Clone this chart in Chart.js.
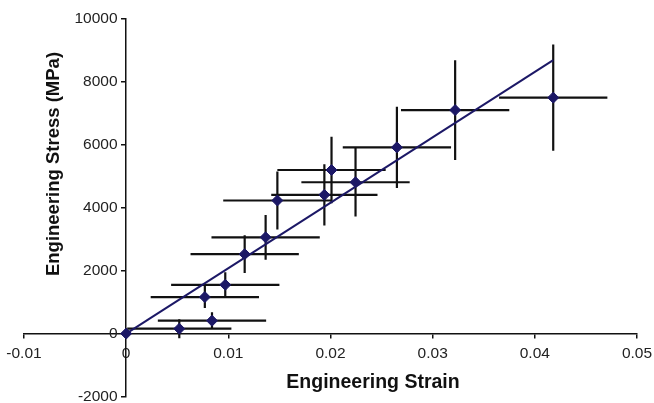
<!DOCTYPE html>
<html>
<head>
<meta charset="utf-8">
<title>Engineering stress vs strain</title>
<script src="https://cdn.jsdelivr.net/npm/chart.js@4.4.1/dist/chart.umd.min.js"></script>
<style>
  html, body { margin: 0; padding: 0; background: #fff; }
  canvas { display: block; }
</style>
</head>
<body>
<canvas id="stressChart" width="654" height="403"></canvas>
<script>
// measured points (strain, stress in MPa) and their error half-widths
const strain    = [0, 0.0052, 0.0084, 0.0077, 0.0097, 0.0116, 0.01365, 0.0148, 0.0194, 0.0201, 0.02245, 0.0265, 0.0322, 0.0418];
const stress    = [0, 155, 410, 1160, 1550, 2525, 3060, 4230, 4410, 5200, 4810, 5920, 7105, 7500];
const strainErr = [0, 0.0051, 0.0053, 0.0053, 0.0053, 0.0053, 0.0053, 0.0053, 0.0052, 0.0053, 0.0053, 0.0053, 0.0053, 0.0053];
const stressErr = [0, 300, 265, 350, 400, 600, 710, 920, 975, 1060, 1090, 1290, 1585, 1690];

// linear fit through the origin
const fitStrain = [0, 0.0418];
const fitStress = [0, 8690];

// axis ticks
const xTicks = [-0.01, 0, 0.01, 0.02, 0.03, 0.04, 0.05];
const yTicks = [-2000, 0, 2000, 4000, 6000, 8000, 10000];

const navy = '#1c1866';
const ink = '#111111';
const fontFamily = '"Liberation Sans", Arial, Helvetica, sans-serif';

// draws the black cross error bars behind the markers
const errorBars = {
  id: 'errorBars',
  beforeDatasetsDraw(chart) {
    const { ctx, scales: { x, y } } = chart;
    ctx.save();
    ctx.strokeStyle = ink;
    ctx.lineWidth = 2.2;
    ctx.lineCap = 'butt';
    strain.forEach((sx, i) => {
      const px = x.getPixelForValue(sx);
      const py = y.getPixelForValue(stress[i]);
      ctx.beginPath();
      if (strainErr[i] > 0) {
        ctx.moveTo(x.getPixelForValue(sx - strainErr[i]), py);
        ctx.lineTo(x.getPixelForValue(sx + strainErr[i]), py);
      }
      if (stressErr[i] > 0) {
        ctx.moveTo(px, y.getPixelForValue(stress[i] - stressErr[i]));
        ctx.lineTo(px, y.getPixelForValue(stress[i] + stressErr[i]));
      }
      ctx.stroke();
    });
    ctx.restore();
  }
};

// axis titles sit off-centre in the original, so place them by hand
const axisTitles = {
  id: 'axisTitles',
  afterDraw(chart) {
    const { ctx, chartArea } = chart;
    ctx.save();
    ctx.fillStyle = ink;
    ctx.textAlign = 'center';
    ctx.textBaseline = 'middle';
    ctx.font = 'bold 19.5px ' + fontFamily;
    ctx.fillText('Engineering Strain', chartArea.left + 349, chartArea.bottom - 14);

    ctx.font = 'bold 18.5px ' + fontFamily;
    ctx.translate(chartArea.left + 30, chartArea.top + 145);
    ctx.rotate(-Math.PI / 2);
    ctx.fillText('Engineering Stress (MPa)', 0, 0);
    ctx.restore();
  }
};

const ctx = document.getElementById('stressChart').getContext('2d');
const stressChart = new Chart(ctx, {
  type: 'scatter',
  data: {
    datasets: [{
      label: 'Measured',
      data: strain.map((sx, i) => ({ x: sx, y: stress[i] })),
      pointStyle: 'rectRot',
      pointRadius: 5.5,
      pointHoverRadius: 5.5,
      backgroundColor: navy,
      borderColor: navy,
      borderWidth: 1,
      showLine: false
    }, {
      label: 'Fit',
      data: fitStrain.map((sx, i) => ({ x: sx, y: fitStress[i] })),
      showLine: true,
      borderColor: navy,
      borderWidth: 2,
      pointRadius: 0,
      fill: false
    }]
  },
  options: {
    responsive: false,
    animation: false,
    layout: { padding: { left: 24, right: 17, top: 19, bottom: 4 } },
    plugins: {
      legend: { display: false },
      tooltip: { enabled: false }
    },
    scales: {
      x: {
        type: 'linear',
        min: -0.01,
        max: 0.05,
        position: { y: 0 }, // axis crosses at stress = 0
        afterBuildTicks: (scale) => { scale.ticks = xTicks.map(v => ({ value: v })); },
        afterFit: (scale) => { scale.paddingLeft = 0; scale.paddingRight = 0; },
        grid: { drawOnChartArea: false, drawTicks: true, tickLength: 4, color: ink, lineWidth: 1.5 },
        border: { color: ink, width: 1.5 },
        ticks: {
          autoSkip: false,
          maxRotation: 0,
          minRotation: 0,
          padding: 7,
          color: '#222',
          font: { family: fontFamily, size: 15.5 },
          callback: (v) => String(v)
        }
      },
      y: {
        type: 'linear',
        min: -2000,
        max: 10000,
        position: { x: 0 }, // axis crosses at strain = 0
        afterBuildTicks: (scale) => { scale.ticks = yTicks.map(v => ({ value: v })); },
        afterFit: (scale) => { scale.paddingTop = 0; scale.paddingBottom = 0; },
        grid: { drawOnChartArea: false, drawTicks: true, tickLength: 4, color: ink, lineWidth: 1.5 },
        border: { color: ink, width: 1.5 },
        ticks: {
          autoSkip: false,
          color: '#222',
          font: { family: fontFamily, size: 15.5 },
          // labels are right-aligned on the axis line here, trailing spaces keep a gap
          callback: (v) => String(v) + '  '
        }
      }
    }
  },
  plugins: [errorBars, axisTitles]
});
</script>
</body>
</html>
